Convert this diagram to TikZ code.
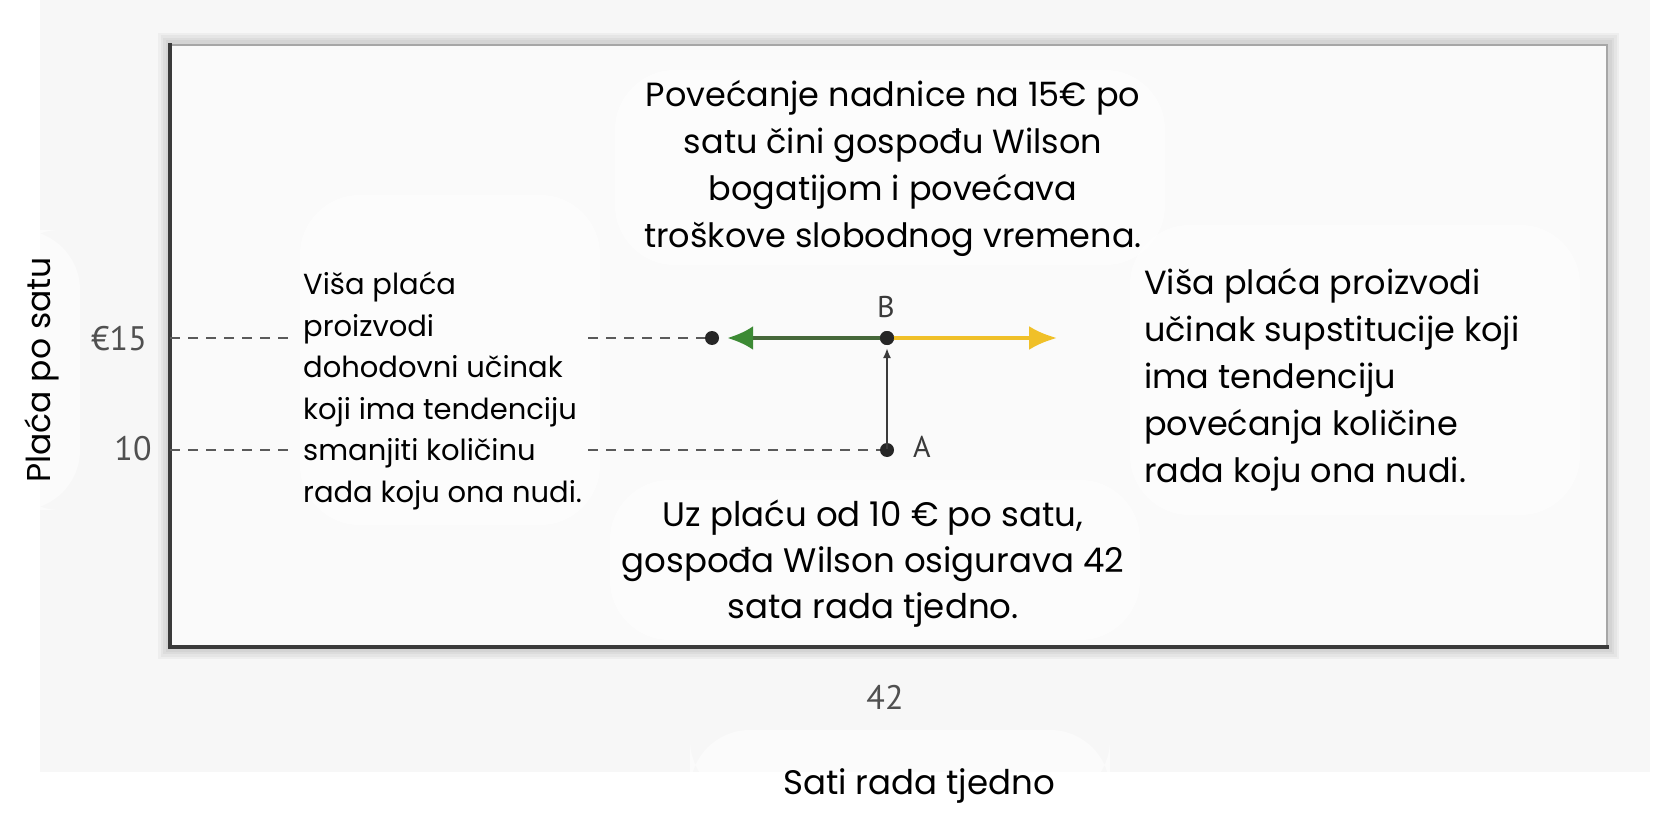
\documentclass[tikz,border=0pt]{standalone}
\usepackage{fontspec}
\setmainfont{Poppins}
\newfontfamily\tickfont{PT Sans}
\usetikzlibrary{arrows.meta}
\definecolor{bgout}{HTML}{F7F7F7}
\definecolor{bgin}{HTML}{FAFAFA}
\definecolor{axiscol}{HTML}{3A3A3A}
\definecolor{dashcol}{HTML}{5A5A5A}
\definecolor{tickcol}{HTML}{505050}
\definecolor{greenarr}{HTML}{3C8A34}
\definecolor{greenline}{HTML}{46683A}
\definecolor{yellowarr}{HTML}{F0C028}
\tikzset{
  maintext/.style={inner sep=0pt, text=black},
  ticklabel/.style={inner sep=0pt, text=tickcol, font=\tickfont\fontsize{34}{34}\selectfont},
  ptlabel/.style={inner sep=0pt, text=axiscol, font=\tickfont\fontsize{30}{30}\selectfont},
  dot/.style={circle, fill=black!85, inner sep=0pt, minimum size=14pt},
  guide/.style={dashcol, line width=2.5pt, dash pattern=on 10pt off 8pt},
  blob/.style={white, opacity=0.55, rounded corners=60pt},
}
\begin{document}
\begin{tikzpicture}[x=1pt,y=-1pt]
\useasboundingbox (0,0) rectangle (1658,829);
\fill[white] (0,0) rectangle (1658,829);
\fill[bgout] (40,0) rectangle (1650,772);
% erased patches outside the frame
\fill[blob] (0,230) rectangle (80,510);
\fill[blob] (690,730) rectangle (1110,800);
% frame shadow
\foreach \w in {24,19,14,9}
  \draw[black, opacity=0.035, line width=\w pt] (170,45) rectangle (1607,647);
\fill[bgin] (170,45) rectangle (1607,647);
% erased patches inside the frame
\fill[blob] (300,195) rectangle (600,525);
\fill[blob] (615,70) rectangle (1165,265);
\fill[blob] (1130,225) rectangle (1580,515);
\fill[blob] (610,480) rectangle (1140,640);
% frame edges
\draw[black!35, line width=2.5pt] (170,45) -- (1607,45) -- (1607,647);
\draw[axiscol, line width=3.5pt, line cap=rect] (170,45) -- (170,647) -- (1607,647);

% points
\node[dot] (C) at (712,338) {};
\node[dot] (B) at (887,338) {};
\node[dot] (A) at (887,450) {};
\coordinate (ax15) at (170,338);
\coordinate (ax10) at (170,450);
\coordinate (g15a) at (290,338);
\coordinate (g15b) at (588,338);
\coordinate (g10a) at (290,450);
\coordinate (g10b) at (588,450);
\coordinate (Y) at (1057,338);

% dashed guides
\draw[guide] (ax15) -- (g15a);
\draw[guide] (g15b) -- (C);
\draw[guide] (ax10) -- (g10a);
\draw[guide] (g10b) -- (A);

% effects
\draw[yellowarr, line width=4pt, -{Latex[length=28pt,width=24pt]}] (B.center) -- (Y);
\draw[greenline, line width=4pt, -{Latex[length=26pt,width=24pt,color=greenarr]}, shorten >=8pt] (B.center) -- (C);
\draw[axiscol, line width=2pt, -{Latex[length=10pt,width=8pt]}, shorten <=1pt, shorten >=10pt] (A.center) -- (B.center);
\node[dot] at (B) {};

\node[ptlabel] (Blab) at (886,307) {B};
\node[ptlabel] (Alab) at (922,447) {A};

% ticks
\node[ticklabel] (t15) at (119,339) {€15};
\node[ticklabel] (t10) at (133,449) {10};
\node[ticklabel] (t42) at (885,697) {42};

% axis titles
\node[maintext, rotate=90, font=\fontsize{33}{33}\selectfont] (ytitle) at (42,370) {Plaća po satu};
\node[maintext, font=\fontsize{34}{34}\selectfont] (xtitle) at (919,786) {Sati rada tjedno};

% texts
\node[maintext, align=center, font=\fontsize{33.5}{47}\selectfont] (top) at (893,168) {Povećanje nadnice na 15€ po\\ satu čini gospođu Wilson\\ bogatijom i povećava\\ troškove slobodnog vremena.};
\node[maintext, align=left, anchor=west, font=\fontsize{29}{41.5}\selectfont] (left) at (303,391) {Viša plaća\\ proizvodi\\ dohodovni učinak\\ koji ima tendenciju\\ smanjiti količinu\\ rada koju ona nudi.};
\node[maintext, align=left, anchor=west, font=\fontsize{33.5}{47}\selectfont] (right) at (1144,380) {Viša plaća proizvodi\\ učinak supstitucije koji\\ ima tendenciju\\ povećanja količine\\ rada koju ona nudi.};
\node[maintext, align=center, font=\fontsize{34}{46}\selectfont] (bottom) at (873,564) {Uz plaću od 10 € po satu,\\ gospođa Wilson osigurava 42\\ sata rada tjedno.};
\end{tikzpicture}
\end{document}
